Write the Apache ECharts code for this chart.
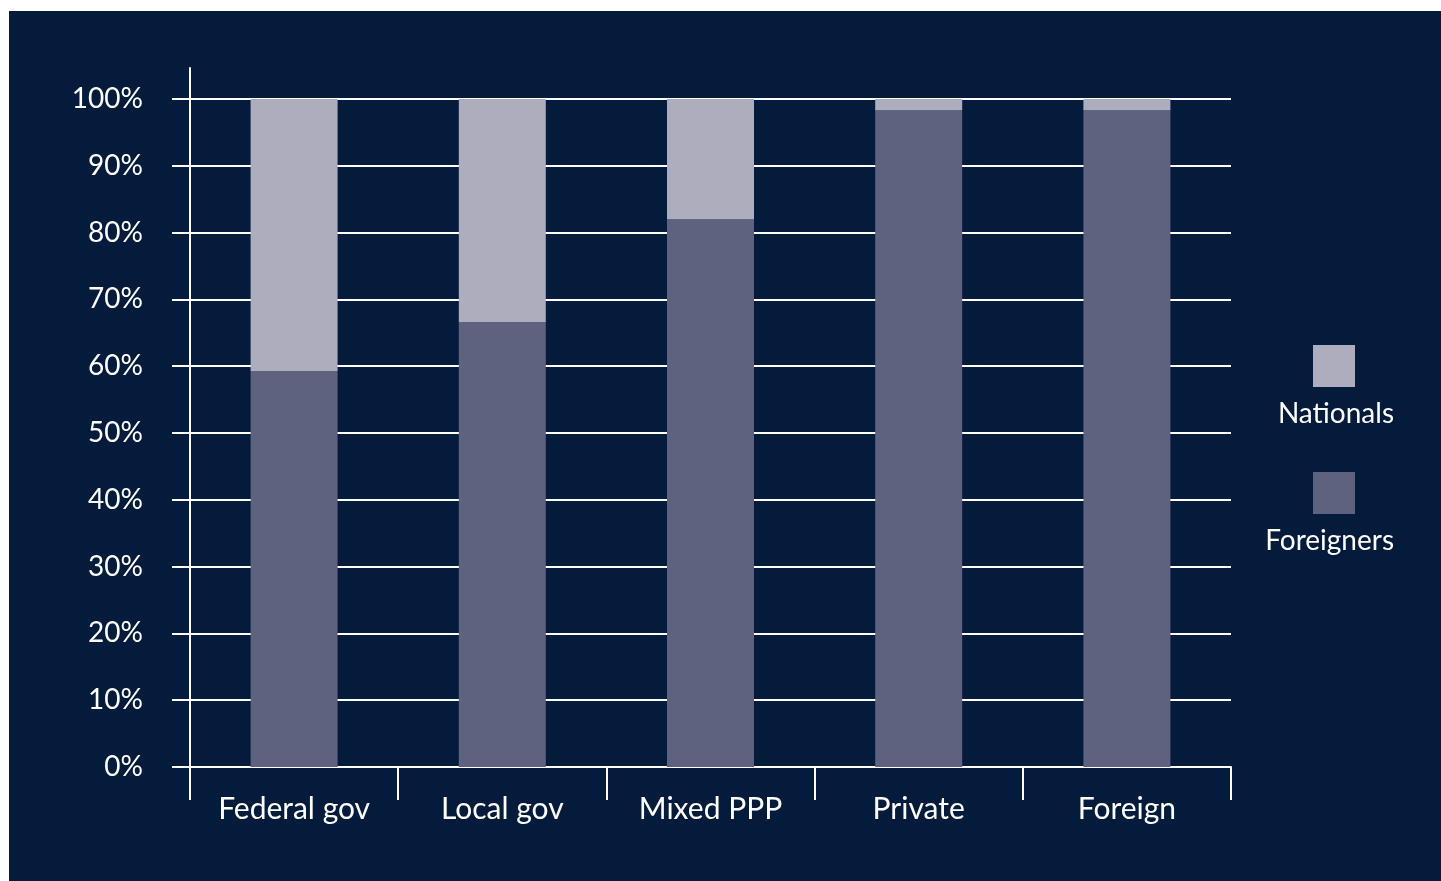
<!DOCTYPE html>
<html>
<head>
<meta charset="utf-8">
<script src="https://cdn.jsdelivr.net/npm/echarts@6/dist/echarts.min.js"></script>
<style>
html,body{margin:0;padding:0;background:#ffffff;width:1441px;height:881px;overflow:hidden;}
#chart{position:absolute;left:9px;top:11px;width:1432px;height:870px;background:#041b3b;}
</style>
</head>
<body>
<div id="chart"></div>
<script>
const categories = ['Federal gov', 'Local gov', 'Mixed PPP', 'Private', 'Foreign'];
const foreigners = [59.3, 66.6, 82.0, 98.3, 98.3];
const nationals = [40.7, 33.4, 18.0, 1.7, 1.7];
const seriesNames = ['Nationals', 'Foreigners'];
const yTicks = { min: 0, max: 100, step: 10 };

const FONT = 'Lato';
const WHITE = '#ffffff';
const chart = echarts.init(document.getElementById('chart'), null, { renderer: 'canvas' });

chart.setOption({
  animation: false,
  backgroundColor: '#041b3b',
  textStyle: { fontFamily: FONT, color: WHITE },
  grid: [
    { left: 181, right: 210, top: 88, bottom: 114, containLabel: false },
    { left: 181, right: 210, top: 57, bottom: 114, containLabel: false }
  ],
  legend: [
    {
      data: seriesNames,
      orient: 'vertical',
      left: 1304, top: 334,
      padding: 0,
      itemWidth: 42, itemHeight: 42, itemGap: 85,
      icon: 'rect',
      formatter: () => '',
      selectedMode: false
    },
    {
      data: seriesNames,
      orient: 'vertical',
      align: 'right',
      right: 42, top: 383,
      padding: 0,
      itemWidth: 0, itemHeight: 40, itemGap: 87,
      icon: 'rect',
      itemStyle: { opacity: 0 },
      selectedMode: false,
      textStyle: { color: WHITE, fontFamily: FONT, fontSize: 28 }
    }
  ],
  xAxis: [
    {
      type: 'category', gridIndex: 0, data: categories,
      axisLine: { show: true, lineStyle: { color: WHITE, width: 2 } },
      axisTick: { show: true, length: 33, lineStyle: { color: WHITE, width: 2 } },
      axisLabel: { color: WHITE, fontFamily: FONT, fontSize: 30, margin: 27 },
      splitLine: { show: false }
    },
    { type: 'category', gridIndex: 1, show: false, data: categories }
  ],
  yAxis: [
    {
      type: 'value', gridIndex: 0, min: yTicks.min, max: yTicks.max, interval: yTicks.step,
      axisLine: { show: true, lineStyle: { color: WHITE, width: 2 } },
      axisTick: { show: true, length: 18, lineStyle: { color: WHITE, width: 2 } },
      axisLabel: { color: WHITE, fontFamily: FONT, fontSize: 28, margin: 47, formatter: '{value}%', padding: [4, 0, 0, 0] },
      splitLine: { show: true, lineStyle: { color: WHITE, width: 2 } }
    },
    {
      type: 'value', gridIndex: 1, min: 0, max: 1,
      axisLine: { show: true, lineStyle: { color: WHITE, width: 2 } },
      axisTick: { show: false }, axisLabel: { show: false }, splitLine: { show: false }
    }
  ],
  series: [
    {
      name: 'Foreigners', type: 'bar', stack: 'total', xAxisIndex: 0, yAxisIndex: 0,
      barWidth: 87, data: foreigners,
      itemStyle: { color: '#5f627f' }
    },
    {
      name: 'Nationals', type: 'bar', stack: 'total', xAxisIndex: 0, yAxisIndex: 0,
      barWidth: 87, data: nationals,
      itemStyle: { color: '#adadbd' }
    }
  ]
});
</script>
</body>
</html>
